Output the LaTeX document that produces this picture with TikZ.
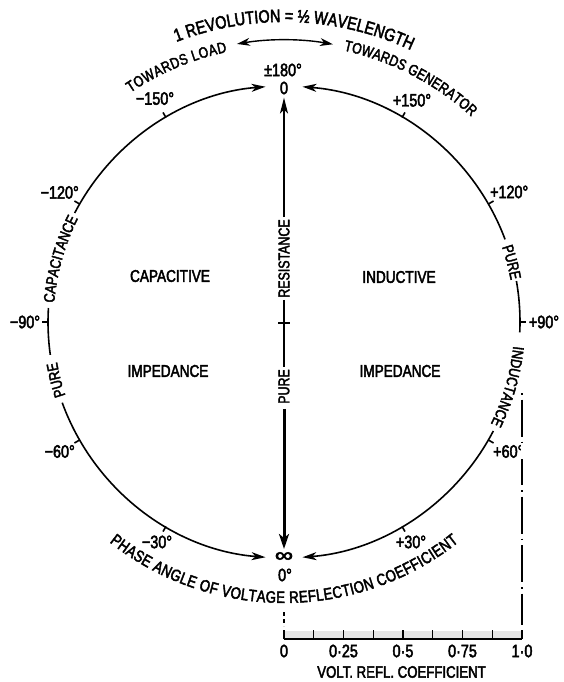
\documentclass[tikz,border=0pt]{standalone}
\usepackage{fontspec}
\setmainfont{Liberation Sans}[FakeStretch=0.8,FakeBold=2.6]
\usetikzlibrary{arrows.meta,decorations.text}
\newcommand{\degfont}{\fontsize{18}{20}\selectfont}
\newcommand{\wordfont}{\fontsize{17}{19}\selectfont}
\newcommand{\arcfont}{\fontsize{15.5}{17}\selectfont}
\newcommand{\headfont}{\fontsize{18}{20}\selectfont}
\newcommand{\towfont}{\fontsize{15.3}{17}\selectfont}
\newcommand{\footfont}{\fontsize{16.5}{18}\selectfont}

\begin{document}
\begin{tikzpicture}[x=1pt,y=1pt,
        ring/.style={line width=1.6pt},
        tip/.style={-{Stealth[length=14pt,width=8pt,inset=4pt]}},
        deg/.style={font=\degfont,inner sep=0.5pt},
        word/.style={font=\wordfont,inner sep=0pt},
        sclab/.style={font=\degfont,inner sep=0pt},
        side/.style={decorate,decoration={text along path,text align=center,text={|\arcfont|#1}}},
        curvetxt/.style={decorate,decoration={text along path,text align={fit to path},text={#1}}}]
        \useasboundingbox (-284,-360) rectangle (280,322);
        \draw[ring,tip] (-160:236) arc[start angle=-160,end angle=-94.5,radius=236];
        \draw[ring] (-172:236) arc[start angle=-172,end angle=-183.4,radius=236];
        \draw[ring,tip] (-207.5:236) arc[start angle=-207.5,end angle=-265.5,radius=236];
        \draw[ring,tip] (-27.5:236) arc[start angle=-27.5,end angle=-85.5,radius=236];
        \draw[ring] (-2.5:236) arc[start angle=-2.5,end angle=10,radius=236];
        \draw[ring,tip] (20.5:236) arc[start angle=20.5,end angle=85.5,radius=236];
        \path[side=CAPACITANCE] (194.3:230.5) arc[start angle=194.3,end angle=134.3,radius=230.5];
        \path[side=PURE] (224.3:230.5) arc[start angle=224.3,end angle=164.3,radius=230.5];
        \path[side=PURE] (44.7:230.5) arc[start angle=44.7,end angle=-15.3,radius=230.5];
        \path[side=INDUCTANCE] (13.9:230.5) arc[start angle=13.9,end angle=-46.1,radius=230.5];
        \coordinate (ax0) at (0,-317);
        \coordinate (ax1) at (238,-317);
        \coordinate (dtop) at (238,-71);
        \draw[line width=1.4pt,dash pattern=on 1.5pt off 5pt on 37pt off 5pt] (dtop) -- ([yshift=14pt]ax1);
        \draw[line width=1.2pt,dash pattern=on 4pt off 3pt] ([yshift=27pt]ax0) -- ([yshift=13pt]ax0);
        \foreach \p/\t/\r [count=\k] in {-150/−150°/258,-120/−120°/259,-90/−90°/259,-60/−60°/259,-30/−30°/254,
            30/+30°/254,60/+60°/259,90/+90°/260,120/+120°/260,150/+150°/256}{
          \draw[ring] ({\p-90}:236) -- ({\p-90}:242);
          \node[deg] (g\k) at ({\p-90}:\r) {\t};
        }
        \fill[white] ([xshift=-3pt]g7.south east) rectangle ([xshift=3pt]g7.north east);
        \node[font=\degfont,inner sep=3pt] (zero) at (0,234) {0};
        \node[font=\degfont,inner sep=0pt] (pm) at (-1,252) {±180°};
        \node[font=\fontsize{20}{22}\selectfont,inner sep=3pt] (inf) at (0,-235) {\scalebox{1.6}[1]{∞}};
        \node[font=\degfont,inner sep=0pt] (zdeg) at (1,-253) {0°};
        \node[font=\arcfont,inner sep=0pt,rotate=90] (res) at (0,63.5) {RESISTANCE};
        \node[font=\arcfont,inner sep=0pt,rotate=90] (pur) at (0,-64.5) {PURE};
        \coordinate (mid) at (0,-1);
        \draw[line width=1.4pt,shorten <=2pt,-{Stealth[length=16pt,width=8pt,inset=4pt]}] (res.east) -- (zero.south);
        \draw[line width=1.4pt,shorten <=2pt,shorten >=2pt] (res.west) -- (pur.east);
        \draw[line width=1.4pt] ([xshift=-6pt]mid) -- ([xshift=6pt]mid);
        \draw[line width=3pt,shorten <=5pt,-{Stealth[length=15pt,width=10pt,inset=4pt]}] (pur.west) -- (inf.north);
        \node[word] (capw) at (-114,46) {CAPACITIVE};
        \node[word] (impl) at (-116,-49) {IMPEDANCE};
        \node[word] (indw) at (115,45) {INDUCTIVE};
        \node[word] (impr) at (116,-49) {IMPEDANCE};
        \path[curvetxt={|\headfont|1 REVOLUTION = ½ WAVELENGTH}] (111:300) arc[start angle=111,end angle=65,radius=300];
        \path[curvetxt={|\towfont|TOWARDS LOAD}] (123.8:276) arc[start angle=123.8,end angle=101.9,radius=276];
        \path[curvetxt={|\towfont|TOWARDS GENERATOR}] (77.6:278) arc[start angle=77.6,end angle=47.6,radius=278];
        \coordinate (ld) at (99.6:282);
        \draw[line width=1.4pt,{Stealth[length=13pt,width=8pt,inset=4pt]}-{Stealth[length=13pt,width=8pt,inset=4pt]}] (ld) arc[start angle=99.6,end angle=80,radius=282];
        \path[curvetxt={|\footfont|PHASE ANGLE OF VOLTAGE REFLECTION COEFFICIENT}] (231.6:281) arc[start angle=231.6,end angle=308.4,radius=281];
        \fill[black!10] ([yshift=1.5pt]ax0) rectangle ([yshift=8pt]ax1);
        \draw[line width=1.5pt] (ax0) -- (ax1);
        \foreach \i in {0,...,8}
          \draw[line width=1.2pt] (\i*29.75,-317) -- ++(0,9);
        \foreach \v/\t [count=\k] in {0/0,0.25/0·25,0.5/0·5,0.75/0·75,1/1·0}
          \node[sclab] (v\k) at (\v*238,-329) {\t};
        \node[sclab,font=\fontsize{16.5}{18}\selectfont] (volt) at (117.5,-350) {VOLT. REFL. COEFFICIENT};
      \end{tikzpicture}
\end{document}
